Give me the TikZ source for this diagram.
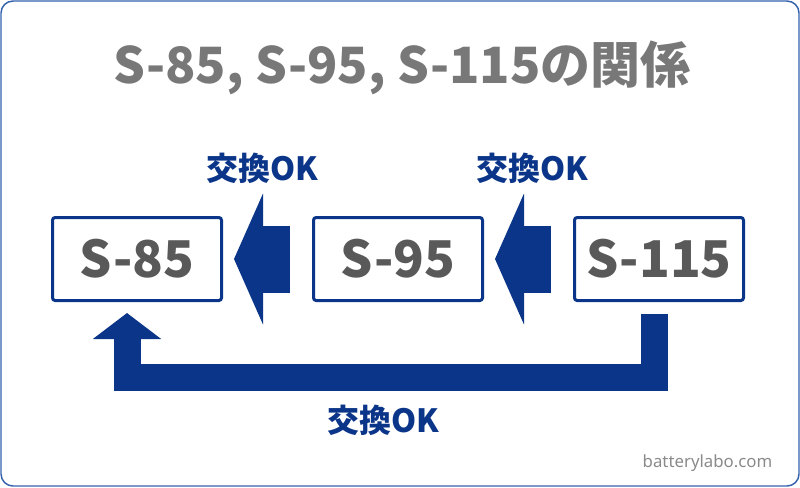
\documentclass[tikz,border=0pt]{standalone}
\usepackage{fontspec}
\setmainfont{Noto Sans CJK JP}
\newfontfamily\wmfont{Noto Sans}
\usetikzlibrary{arrows.meta}
\definecolor{navy}{HTML}{0B3588}
\definecolor{frameblue}{HTML}{3461AD}
\definecolor{boxgray}{HTML}{595959}
\definecolor{titlegray}{HTML}{787878}
\definecolor{sitegray}{HTML}{8A8A8A}

\begin{document}
\begin{tikzpicture}[x=0.75pt, y=-0.75pt,
	modelbox/.style = {draw=navy, line width=2.25pt, rounded corners=2pt, minimum width=126.75pt, minimum height=62.25pt, inner sep=0pt, text=boxgray, font=\bfseries\fontsize{38}{38}\selectfont},
	oklabel/.style = {text=navy, inner sep=0pt, font=\bfseries\fontsize{24}{24}\selectfont},
	sidearrow/.style = {navy, line width=50.25pt, -{Triangle[length=21.75pt, width=97.5pt]}},
	looparrow/.style = {navy, line width=20.25pt, -{Triangle[length=19.5pt, width=50.25pt]}}]
	\useasboundingbox (0,0) rectangle (800,487);
	\draw [frameblue, line width=1.1pt, rounded corners=9pt] (1,1) rectangle (799,486);
	\node [text=titlegray, anchor=base, font=\bfseries\fontsize{37.5}{37.5}\selectfont] (title) at (402,83) {S-85, S-95, S-115の関係};
	\node [modelbox] (s85) at (137,259) {S-85};
	\node [modelbox] (s95) at (398,259) {S-95};
	\node [modelbox] (s115) at (659,259) {S-115};
	\draw [sidearrow] ([xshift=-16.5pt]s95.west) -- ([xshift=8.25pt]s85.east);
	\draw [sidearrow] ([xshift=-16.5pt]s115.west) -- ([xshift=8.25pt]s95.east);
	\coordinate (loopstart) at ([xshift=-3.75pt, yshift=-9pt]s115.south);
	\coordinate (loopend) at ([xshift=-7.5pt, yshift=-8.25pt]s85.south);
	\draw [looparrow] (loopstart) -- ++(0,63) -| (loopend);
	\node [oklabel] (ok1) at (262,168) {交換OK};
	\node [oklabel] (ok2) at (532,168) {交換OK};
	\node [oklabel] (ok3) at (383,420) {交換OK};
	\node [text=sitegray, anchor=base east, font=\wmfont\fontsize{12.6}{12.6}\selectfont] (site) at (777,467) {batterylabo.com};
\end{tikzpicture}
\end{document}
